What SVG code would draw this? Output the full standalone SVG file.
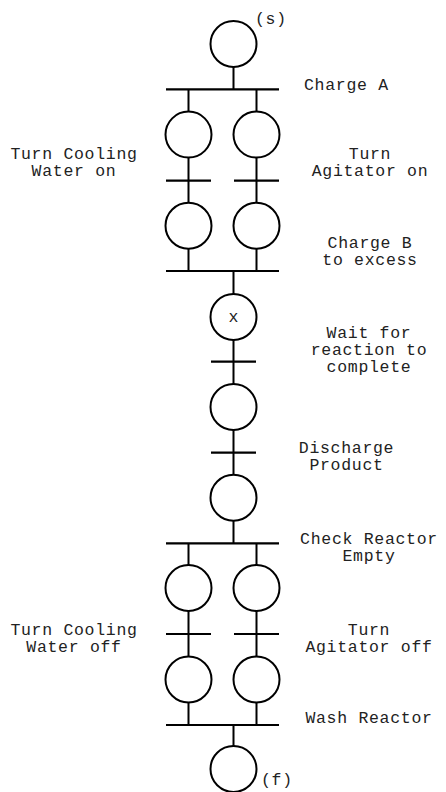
<svg xmlns="http://www.w3.org/2000/svg" width="446" height="792" viewBox="0 0 446 792">
<style>
.step{fill:#fff;stroke:#000;stroke-width:2}
.ln{stroke:#000;stroke-width:2;fill:none}
.bar{stroke:#000;stroke-width:2.2;fill:none}
text{font-family:"Liberation Mono","Courier New",monospace;font-size:16.5px;letter-spacing:0.7px;fill:#222}
.m{text-anchor:middle}
</style>
<rect width="446" height="792" fill="#fff"/>
<g id="connectors">
<path class="ln" d="M233.5,67V89.3 M188.5,89.3V111.6 M256.5,89.3V111.6 M188.5,157.6V202.7 M256.5,157.6V202.7 M188.5,248.7V271 M256.5,248.7V271 M233.5,271V294 M233.5,340V384 M233.5,430V474.7 M233.5,520.7V543.3 M188.5,543.3V565 M256.5,543.3V565 M188.5,611V656.5 M256.5,611V656.5 M188.5,702.5V725 M256.5,702.5V725 M233.5,725V746"/>
<path class="bar" d="M166,89.3H279 M166,180.7H211 M234,180.7H279 M166,271H279 M211,361.7H256 M211,452.7H256 M166,543.3H279 M166,634H211 M234,634H279 M166,725H279"/>
</g>
<g id="s0"><circle class="step" cx="233.5" cy="44" r="23"/><text x="255" y="24">(s)</text></g>
<g id="s1a"><circle class="step" cx="188.5" cy="134.6" r="23"/></g>
<g id="s1b"><circle class="step" cx="256.5" cy="134.6" r="23"/></g>
<g id="s2a"><circle class="step" cx="188.5" cy="225.7" r="23"/></g>
<g id="s2b"><circle class="step" cx="256.5" cy="225.7" r="23"/></g>
<g id="s3"><circle class="step" cx="233.5" cy="317" r="23"/><text class="m" x="233.8" y="322">x</text></g>
<g id="s4"><circle class="step" cx="233.5" cy="407" r="23"/></g>
<g id="s5"><circle class="step" cx="233.5" cy="497.7" r="23"/></g>
<g id="s6a"><circle class="step" cx="188.5" cy="588" r="23"/></g>
<g id="s6b"><circle class="step" cx="256.5" cy="588" r="23"/></g>
<g id="s7a"><circle class="step" cx="188.5" cy="679.5" r="23"/></g>
<g id="s7b"><circle class="step" cx="256.5" cy="679.5" r="23"/></g>
<g id="s8"><circle class="step" cx="233.5" cy="769" r="23"/><text x="261" y="785">(f)</text></g>
<g id="labels">
<text x="304" y="90">Charge A</text>
<text class="m" x="74" y="159">Turn Cooling</text>
<text class="m" x="74" y="176">Water on</text>
<text class="m" x="370" y="159">Turn</text>
<text class="m" x="370" y="176">Agitator on</text>
<text class="m" x="370" y="248">Charge B</text>
<text class="m" x="370" y="265">to excess</text>
<text class="m" x="369" y="338">Wait for</text>
<text class="m" x="369" y="355">reaction to</text>
<text class="m" x="369" y="372">complete</text>
<text class="m" x="346.5" y="453">Discharge</text>
<text class="m" x="346.5" y="470">Product</text>
<text class="m" x="369" y="544">Check Reactor</text>
<text class="m" x="369" y="561">Empty</text>
<text class="m" x="74" y="635">Turn Cooling</text>
<text class="m" x="74" y="652">Water off</text>
<text class="m" x="369" y="635">Turn</text>
<text class="m" x="369" y="652">Agitator off</text>
<text class="m" x="369" y="723">Wash Reactor</text>
</g>
</svg>
